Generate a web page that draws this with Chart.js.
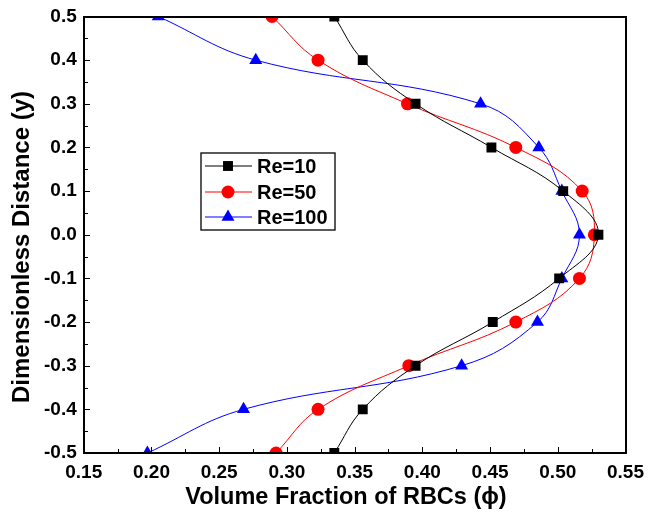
<!DOCTYPE html>
<html>
<head>
<meta charset="utf-8">
<script src="https://cdn.jsdelivr.net/npm/chart.js@4/dist/chart.umd.min.js"></script>
<style>
html,body{margin:0;padding:0;background:#fff;}
#wrap{width:654px;height:523px;position:relative;}
#wrap canvas{position:absolute;left:0;top:0;}
.ov{position:absolute;background:#000;pointer-events:none;}
</style>
</head>
<body>
<div id="wrap"><canvas id="c" width="654" height="523"></canvas></div>
<script>
const yDistance = [0.5, 0.4, 0.3, 0.2, 0.1, 0.0, -0.1, -0.2, -0.3, -0.4, -0.5];
const re10  = [0.335, 0.356, 0.395, 0.451, 0.504, 0.530, 0.501, 0.452, 0.395, 0.356, 0.335];
const re50  = [0.289, 0.323, 0.389, 0.469, 0.518, 0.527, 0.516, 0.469, 0.390, 0.323, 0.292];
const re100 = [0.205, 0.277, 0.443, 0.486, 0.503, 0.516, 0.503, 0.485, 0.429, 0.268, 0.197];
const seriesLabels = ['Re=10', 'Re=50', 'Re=100'];
const xTicks = [0.15, 0.20, 0.25, 0.30, 0.35, 0.40, 0.45, 0.50, 0.55];
const yTicks = [0.5, 0.4, 0.3, 0.2, 0.1, 0.0, -0.1, -0.2, -0.3, -0.4, -0.5];
const xTitle = 'Volume Fraction of RBCs (\u03D5)';
const yTitle = 'Dimensionless Distance (y)';

const FONT = '"Liberation Sans", Arial, sans-serif';

function pts(xs){ return xs.map((v,i)=>({x:v, y:yDistance[i]})); }

const styles = [
  {color:'#000000', shape:'rect', radius:7},
  {color:'#ff0000', shape:'circle', radius:6.5},
  {color:'#0000ff', shape:'triangle', radius:7.5}
];
const seriesData = [re10, re50, re100];

const datasets = seriesData.map((d,i)=>({
  label: seriesLabels[i],
  data: pts(d),
  showLine: true,
  borderColor: styles[i].color,
  backgroundColor: styles[i].color,
  borderWidth: 1,
  pointStyle: styles[i].shape,
  pointRadius: styles[i].radius,
  pointBorderWidth: 0,
  tension: 0.4,
  clip: 0
}));

function marker(ctx, shape, r, x, y){
  ctx.beginPath();
  if (shape === 'rect'){
    const s = r * Math.SQRT1_2;
    ctx.rect(x - s, y - s, 2*s, 2*s);
  } else if (shape === 'circle'){
    ctx.arc(x, y, r, 0, Math.PI*2);
  } else {
    ctx.moveTo(x, y - r);
    ctx.lineTo(x + r*Math.sin(Math.PI*2/3), y - r*Math.cos(Math.PI*2/3));
    ctx.lineTo(x + r*Math.sin(Math.PI*4/3), y - r*Math.cos(Math.PI*4/3));
    ctx.closePath();
  }
  ctx.fill();
}

const decor = {
  id: 'decor',
  afterDraw(chart){
    const ctx = chart.ctx;
    ctx.save();
    ctx.fillStyle = '#000';
    ctx.textAlign = 'center';
    ctx.textBaseline = 'middle';
    ctx.font = 'bold 23.5px ' + FONT;
    ctx.fillText(xTitle, 346, 498);
    ctx.save();
    ctx.translate(22, 247);
    ctx.rotate(-Math.PI/2);
    ctx.font = 'bold 24px ' + FONT;
    ctx.fillText(yTitle, 0, 0);
    ctx.restore();

    const x0 = 201, y0 = 153, w = 134, h = 77;
    ctx.fillStyle = '#fff';
    ctx.fillRect(x0, y0, w, h);
    ctx.strokeStyle = '#000';
    ctx.lineWidth = 1.3;
    ctx.strokeRect(x0, y0, w, h);
    const rows = [166, 192, 217];
    chart.data.datasets.forEach((ds, i) => {
      const ry = rows[i];
      ctx.strokeStyle = ds.borderColor;
      ctx.lineWidth = 1;
      ctx.beginPath();
      ctx.moveTo(205, ry); ctx.lineTo(252, ry);
      ctx.stroke();
      ctx.fillStyle = ds.backgroundColor;
      marker(ctx, ds.pointStyle, ds.pointRadius, 228, ry);
      ctx.fillStyle = '#000';
      ctx.font = 'bold 20px ' + FONT;
      ctx.textBaseline = 'middle';
      ctx.textAlign = 'left';
      ctx.fillText(ds.label, 257, ry + 1);
    });
    ctx.restore();
  }
};

const chart = new Chart(document.getElementById('c'), {
  type: 'scatter',
  data: { datasets },
  options: {
    responsive: false,
    animation: false,
    devicePixelRatio: 1,
    layout: { padding: { left: 37, right: 28, top: 11.5, bottom: 31 } },
    plugins: { legend: { display: false }, tooltip: { enabled: false } },
    scales: {
      x: {
        type: 'linear', min: 0.15, max: 0.55,
        afterBuildTicks(s){ s.ticks = xTicks.map(v=>({value:v})); },
        grid: { display: false, drawTicks: false },
        border: { display: false },
        ticks: { color:'#000', padding: 10, font:{family:FONT, weight:'bold', size:19, lineHeight:1},
          callback: v => Number(v).toFixed(2), maxRotation:0, autoSkip:false }
      },
      y: {
        type: 'linear', min: -0.5, max: 0.5,
        afterBuildTicks(s){ s.ticks = yTicks.map(v=>({value:v})); },
        grid: { display: false, drawTicks: false },
        border: { display: false },
        ticks: { color:'#000', padding: 7, font:{family:FONT, weight:'bold', size:19, lineHeight:1},
          callback: v => Number(v).toFixed(1), autoSkip:false }
      }
    }
  },
  plugins: [decor]
});

// Frame and inward ticks as an overlay, positioned from the chart's own scales
(function(){
  const wrap = document.getElementById('wrap');
  const a = chart.chartArea;
  const xs = chart.scales.x, ys = chart.scales.y;
  const L = Math.round(a.left), T = Math.round(a.top), R = Math.round(a.right), B = Math.round(a.bottom);
  function bar(l, t, w, h){
    const d = document.createElement('div');
    d.className = 'ov';
    d.style.left = l + 'px'; d.style.top = t + 'px';
    d.style.width = w + 'px'; d.style.height = h + 'px';
    wrap.appendChild(d);
  }
  bar(L - 1, T - 1, R - L + 2, 2);
  bar(L - 1, B - 1, R - L + 2, 2);
  bar(L - 1, T - 1, 2, B - T + 2);
  bar(R - 1, T - 1, 2, B - T + 2);
  for (let k = 0; k <= 16; k++){
    const px = Math.round(xs.getPixelForValue(0.15 + k*0.025));
    const len = (k % 2 === 0) ? 6 : 4;
    bar(px - 0.5, B - len, 1.2, len);
  }
  for (let k = 0; k <= 20; k++){
    const py = Math.round(ys.getPixelForValue(-0.5 + k*0.05));
    const len = (k % 2 === 0) ? 6 : 4;
    bar(L, py - 0.5, len, 1.2);
  }
})();
</script>
</body>
</html>
